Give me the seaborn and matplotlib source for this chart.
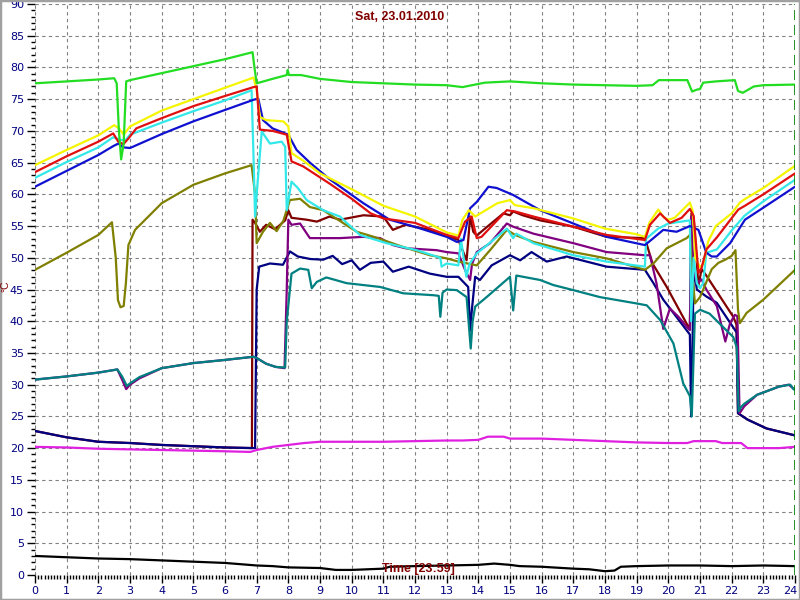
import matplotlib
matplotlib.use("Agg")
import matplotlib.pyplot as plt
import matplotlib.transforms as mtransforms
import seaborn as sns
import pandas as pd
import numpy as np
from matplotlib.patches import Rectangle
from matplotlib.ticker import MultipleLocator

# ---------------- data (hours, °C) ----------------
green_h = [0, 1, 2, 2.5, 2.58, 2.65, 2.72, 2.8, 2.88, 3.0, 4, 5, 6, 6.87, 6.93, 7.0, 7.5, 7.95, 7.98,
           8.02, 8.4, 9, 10, 11, 12, 13, 13.5, 13.8, 14.2, 15, 16, 17, 18, 19, 19.5, 19.7, 20.6, 20.75,
           20.9, 21.0, 21.1, 21.5, 22.1, 22.2, 22.35, 22.7, 23, 24]
green_v = [77.5, 77.8, 78.1, 78.3, 77.5, 70, 65.5, 68, 77.8, 78.0, 79.1, 80.2, 81.3, 82.4, 80, 77.5, 78.2,
           78.8, 79.6, 78.8, 78.8, 78.2, 77.7, 77.5, 77.3, 77.2, 76.9, 77.2, 77.6, 77.8, 77.5, 77.3, 77.2,
           77.1, 77.2, 78.0, 78.0, 76.2, 76.5, 76.6, 77.6, 77.8, 78.0, 76.3, 76.0, 77.0, 77.2, 77.3]

yellow_h = [0, 1, 2, 2.5, 2.65, 2.8, 3.0, 4, 5, 6, 6.9, 7.0, 7.1, 7.3, 7.84, 8.0, 8.1, 8.5, 9.0, 10, 11,
            12, 13, 13.37, 13.5, 13.7, 13.9, 14.0, 14.6, 15.0, 15.15, 15.75, 17, 18, 19, 19.26, 19.4,
            19.68, 19.85, 20.0, 20.2, 20.5, 20.68, 20.77, 20.85, 21.0, 21.1, 21.26, 21.5, 22.0, 22.26,
            22.4, 23, 24]
yellow_v = [64.6, 67.0, 69.3, 70.9, 70.4, 69.4, 70.7, 73.2, 75.0, 76.8, 78.4, 76.5, 72.2, 71.7, 71.5, 70.7,
            66.5, 65.2, 63.3, 60.8, 58.2, 56.5, 54.0, 53.5, 56.0, 57.5, 56.5, 56.8, 58.6, 59.1, 58.3, 57.8,
            56.2, 54.6, 53.7, 53.3, 55.5, 57.6, 56.4, 56.0, 56.3, 57.8, 58.7, 57.4, 50.0, 48.5, 49.0, 52.6,
            55.0, 57.0, 58.7, 59.2, 61.0, 64.5]

red_h = [0, 1, 2, 2.47, 2.63, 2.79, 2.95, 3.2, 4, 5, 6, 6.9, 7.0, 7.1, 7.5, 7.95, 8.1, 8.47, 9.3, 10,
         10.6, 11, 12, 13, 13.37, 13.58, 13.79, 13.95, 14.1, 14.9, 15.16, 15.74, 17, 18.05, 19.26, 19.42,
         19.74, 20.05, 20.42, 20.68, 20.8, 20.95, 21.05, 21.2, 21.53, 22.21, 22.42, 23, 24]
red_v = [63.5, 66.0, 68.3, 69.6, 68.3, 67.9, 68.8, 70.4, 72.0, 73.9, 75.5, 76.9, 77.0, 70.2, 70.0, 69.4,
         65.2, 64.4, 61.7, 59.3, 57.0, 56.2, 55.5, 53.6, 53.1, 55.7, 56.5, 53.1, 53.3, 57.5, 57.3, 56.5,
         54.9, 53.6, 52.8, 55.2, 57.0, 55.5, 56.3, 57.7, 56.6, 47.6, 48.4, 51.3, 53.2, 57.6, 58.2, 60.0, 63.3]

cyan_h = [0, 1, 2, 2.47, 2.68, 2.85, 3.0, 4, 5, 6, 6.84, 6.9, 6.95, 7.0, 7.16, 7.42, 7.79, 7.9, 7.95,
          8.1, 8.3, 8.58, 9.1, 9.63, 10.26, 11.1, 12.05, 12.8, 12.84, 13.0, 13.37, 13.45, 13.62, 13.72,
          13.95, 14.4, 14.9, 15.1, 15.2, 15.74, 17, 18.05, 19.26, 19.3, 19.68, 20.0, 20.68, 20.72, 20.8,
          20.9, 21.0, 21.1, 21.2, 21.53, 22.0, 22.4, 23, 24]
cyan_v = [62.6, 65.1, 67.4, 69.0, 68.6, 68.5, 69.4, 71.3, 73.1, 74.8, 76.4, 66.0, 56.5, 60.0, 69.9, 68.0,
          68.3, 67.5, 57.5, 62.0, 61.0, 59.1, 57.5, 56.5, 53.6, 52.3, 51.2, 50.0, 48.6, 49.1, 48.8, 53.0,
          47.0, 49.0, 50.7, 52.5, 54.6, 53.1, 53.8, 52.3, 50.4, 49.4, 48.6, 53.0, 54.6, 55.4, 55.9, 40.0,
          50.0, 46.0, 45.2, 46.0, 50.8, 51.3, 54.3, 56.6, 58.9, 62.3]

blue_h = [0, 1, 2, 2.47, 2.63, 2.79, 3.0, 4, 5, 6, 6.9, 7.05, 7.2, 7.5, 8.0, 8.26, 8.68, 9.3, 10.37,
          11.2, 12.05, 13.0, 13.32, 13.53, 13.74, 13.95, 14.32, 14.58, 15.1, 15.95, 17, 18.05, 19.26,
          19.53, 19.84, 20.26, 20.68, 20.95, 21.2, 21.37, 21.53, 21.95, 22.42, 23, 24]
blue_v = [61.2, 63.7, 66.2, 67.6, 68.0, 67.4, 67.3, 69.5, 71.5, 73.3, 74.9, 75.1, 71.7, 70.4, 69.4, 67.0,
          65.0, 62.4, 58.6, 56.0, 54.8, 53.3, 52.5, 52.8, 57.8, 58.8, 61.2, 61.0, 59.9, 57.5, 55.4, 53.3,
          52.0, 53.1, 54.4, 54.1, 55.0, 54.4, 50.8, 50.2, 50.2, 52.3, 56.0, 57.9, 61.2]

olive_h = [0, 1, 2, 2.43, 2.55, 2.62, 2.7, 2.8, 2.87, 2.95, 3.16, 4, 5, 6, 6.84, 6.95, 7.0, 7.2, 7.42,
           7.63, 7.84, 8.05, 8.37, 8.68, 9.1, 10.16, 10.7, 11.63, 12.47, 13.0, 13.37, 13.95, 14.37, 14.9,
           15.16, 15.74, 17, 18.05, 19.26, 19.53, 19.95, 20.58, 20.68, 20.75, 20.84, 21.0, 21.37, 21.58,
           21.8, 22.0, 22.12, 22.2, 22.26, 22.47, 23, 24]
olive_v = [48.1, 50.8, 53.6, 55.6, 50.0, 43.3, 42.2, 42.4, 46.0, 52.0, 54.4, 58.6, 61.5, 63.3, 64.6, 60.0,
           52.3, 54.1, 55.5, 54.2, 55.8, 59.1, 59.3, 58.0, 57.5, 54.1, 53.3, 51.7, 50.4, 49.9, 49.4, 48.8,
           51.2, 54.4, 53.6, 52.5, 50.9, 49.9, 48.1, 49.1, 51.5, 53.1, 53.6, 48.0, 42.8, 43.8, 48.2, 49.2,
           49.7, 50.3, 51.2, 41.8, 39.7, 41.3, 43.4, 48.1]

maroon_h = [0, 1, 2, 3, 4, 5, 6, 6.85, 6.87, 6.95, 7.1, 7.3, 7.58, 7.9, 8.0, 8.1, 8.58, 8.9, 9.3, 9.63,
            10.37, 11.0, 11.3, 11.7, 12.47, 13.0, 13.37, 13.63, 13.74, 13.84, 13.95, 14.21, 14.79, 15.0,
            15.1, 15.4, 15.95, 17, 18.05, 19.26, 19.5, 19.95, 20.58, 20.68, 20.73, 20.8, 20.95, 21.05,
            21.2, 22.05, 22.15, 22.2, 22.5, 23.1, 24]
maroon_v = [22.7, 21.7, 21.0, 20.8, 20.5, 20.3, 20.1, 20.0, 56.0, 55.5, 54.1, 55.2, 54.5, 55.9, 57.5, 56.3,
            56.0, 55.7, 56.5, 56.0, 56.7, 56.5, 54.4, 55.2, 54.4, 53.5, 52.8, 49.6, 56.5, 54.1, 53.5, 54.6,
            57.0, 56.7, 57.3, 56.7, 55.9, 54.9, 53.3, 53.1, 49.1, 45.4, 39.6, 38.8, 57.0, 56.3, 45.6, 48.2,
            47.2, 40.7, 39.5, 25.5, 24.5, 23.1, 22.0]

navy_h = [0, 1, 2, 3, 4, 5, 6, 6.95, 7.0, 7.08, 7.42, 7.83, 8.05, 8.3, 8.7, 9.1, 9.4, 9.7, 10.0, 10.26,
          10.6, 11.0, 11.3, 11.8, 12.47, 13.0, 13.37, 13.68, 13.74, 13.8, 13.9, 14.05, 14.42, 15.0, 15.32,
          15.68, 16.16, 16.79, 18.05, 19.26, 19.53, 19.84, 20.68, 20.72, 20.76, 20.8, 20.9, 21.2, 21.53,
          22.16, 22.2, 22.5, 23.1, 24]
navy_v = [22.7, 21.7, 21.0, 20.8, 20.5, 20.3, 20.1, 20.0, 45.0, 48.6, 49.1, 48.9, 51.0, 50.2, 49.8, 49.7,
          50.3, 49.0, 49.6, 48.1, 49.2, 49.4, 47.8, 48.6, 47.5, 47.0, 47.0, 45.4, 38.5, 42.0, 47.0, 46.5,
          48.8, 50.4, 49.6, 50.9, 49.4, 50.2, 48.6, 48.1, 46.0, 43.4, 37.9, 25.0, 35.0, 48.7, 45.0, 43.9,
          42.9, 38.2, 25.5, 24.5, 23.1, 22.0]

purple_h = [0, 1, 2, 2.6, 2.75, 2.88, 3.0, 3.3, 4, 5, 6, 6.9, 7.0, 7.3, 7.6, 7.88, 7.95, 8.0, 8.1, 8.37,
            8.68, 9.63, 10.37, 10.9, 11.3, 11.7, 12.68, 13.0, 13.37, 13.58, 13.74, 13.8, 13.95, 14.37,
            14.9, 15.1, 15.74, 17, 18.05, 19.26, 19.42, 19.63, 19.84, 20.05, 20.32, 20.6, 20.68, 20.72,
            20.8, 20.9, 21.05, 21.2, 21.53, 21.8, 21.95, 22.1, 22.18, 22.25, 22.4, 22.8, 23.5, 23.8, 24]
purple_v = [30.8, 31.3, 31.9, 32.4, 30.8, 29.3, 30.0, 31.0, 32.6, 33.4, 33.9, 34.4, 34.2, 33.3, 32.8, 32.6,
            45.0, 56.0, 55.2, 55.4, 53.1, 53.1, 53.3, 53.1, 52.0, 51.5, 51.2, 50.9, 50.7, 48.1, 46.5, 49.0,
            50.9, 52.3, 55.4, 54.9, 53.8, 52.3, 50.9, 50.4, 50.4, 45.9, 38.8, 42.0, 40.7, 39.0, 38.6, 56.5,
            48.0, 46.0, 46.6, 45.0, 42.4, 36.8, 39.7, 41.0, 40.8, 25.5, 26.6, 28.4, 29.7, 30.0, 29.2]

teal_h = [0, 1, 2, 2.6, 2.75, 2.9, 3.0, 3.3, 4, 5, 6, 6.9, 7.0, 7.3, 7.6, 7.9, 7.95, 8.1, 8.37, 8.63,
          8.74, 8.9, 9.2, 9.84, 10.9, 11.63, 12.58, 12.75, 12.8, 12.87, 13.0, 13.32, 13.63, 13.76, 13.82,
          13.9, 14.26, 15.0, 15.1, 15.2, 15.95, 16.37, 17, 17.84, 19.0, 19.32, 19.74, 20.16, 20.47, 20.68,
          20.74, 20.84, 21.0, 21.3, 22.05, 22.16, 22.22, 22.3, 22.4, 22.8, 23.5, 23.85, 23.95, 24]
teal_v = [30.8, 31.3, 31.9, 32.4, 31.3, 29.8, 30.2, 31.2, 32.6, 33.4, 33.9, 34.4, 34.2, 33.3, 32.8, 32.7,
          40.0, 47.5, 48.3, 48.1, 45.2, 46.2, 46.9, 46.0, 45.4, 44.4, 44.1, 44.0, 40.7, 44.5, 45.0, 44.9,
          43.8, 35.7, 40.0, 42.3, 43.8, 47.0, 41.7, 47.2, 46.5, 45.7, 44.9, 43.8, 42.8, 42.5, 40.2, 36.5,
          30.2, 28.2, 25.0, 41.2, 41.8, 41.2, 37.5, 35.9, 25.8, 26.5, 27.0, 28.4, 29.7, 30.0, 29.3, 29.2]

magenta_h = [0, 1, 2, 3, 4, 5, 6, 6.8, 7.0, 7.5, 8.0, 8.5, 9, 10, 11, 12, 13, 13.5, 14, 14.3, 14.8, 15,
             16, 17, 18, 19, 20, 20.6, 20.8, 21.5, 21.7, 22.3, 22.5, 23.5, 24]
magenta_v = [20.2, 20.1, 19.9, 19.8, 19.7, 19.6, 19.5, 19.4, 19.7, 20.2, 20.5, 20.8, 21.0, 21.0, 21.0,
             21.1, 21.2, 21.2, 21.3, 21.8, 21.8, 21.5, 21.5, 21.3, 21.1, 20.9, 20.8, 20.8, 21.1, 21.1,
             20.8, 20.8, 20.0, 20.0, 20.2]

black_h = [0, 0.5, 1, 2, 3, 4, 5, 6, 6.5, 7, 7.5, 8, 9, 9.5, 10, 10.5, 11, 11.2, 12, 13, 14, 14.5, 15,
           15.3, 16, 17, 17.5, 18, 18.3, 18.5, 19, 20, 21, 22, 23, 24]
black_v = [3.0, 2.9, 2.8, 2.6, 2.5, 2.3, 2.1, 1.9, 1.7, 1.5, 1.4, 1.2, 1.1, 0.8, 0.8, 0.9, 1.0, 1.3, 1.4,
           1.5, 1.6, 1.8, 1.6, 1.4, 1.3, 1.0, 0.9, 0.6, 0.7, 1.3, 1.4, 1.5, 1.5, 1.4, 1.5, 1.4]

x_ticks = list(range(0, 25))
y_ticks = list(range(0, 95, 5))

# drawing order (bottom to top) and colours
series = [
    ("maroon", maroon_h, maroon_v, "#800000"),
    ("navy", navy_h, navy_v, "#000080"),
    ("purple", purple_h, purple_v, "#800080"),
    ("teal", teal_h, teal_v, "#008080"),
    ("olive", olive_h, olive_v, "#808000"),
    ("cyan", cyan_h, cyan_v, "#33E8E8"),
    ("blue", blue_h, blue_v, "#1010D0"),
    ("yellow", yellow_h, yellow_v, "#F5F500"),
    ("red", red_h, red_v, "#E01010"),
    ("green", green_h, green_v, "#22DD22"),
    ("magenta", magenta_h, magenta_v, "#E020E0"),
    ("black", black_h, black_v, "#000000"),
]

sns.set_theme(style="white")
plt.rcParams["font.family"] = ["DejaVu Sans"]

fig = plt.figure(figsize=(8, 6), dpi=100)
fig.patch.set_facecolor("white")
ax = fig.add_axes([35 / 800, 25 / 600, 760 / 800, 571 / 600])
ax.set_facecolor("white")

for name, h, v, col in series:
    df = pd.DataFrame({"hour": h, "value": v})
    sns.lineplot(data=df, x="hour", y="value", ax=ax, color=col, linewidth=1.6,
                 sort=False, estimator=None)

ax.axvline(24, color="#008000", lw=1.2, ls=(0, (6, 3)), zorder=5)

ax.set_xlim(0, 24)
ax.set_ylim(0, 90)
ax.set_xticks(x_ticks)
ax.set_yticks(y_ticks)
ax.xaxis.set_minor_locator(MultipleLocator(0.1))
ax.yaxis.set_minor_locator(MultipleLocator(1))
ax.set_xlabel("")
ax.set_ylabel("")
ax.grid(True, which="major", color="#808080", lw=0.8, ls=(0, (3, 3)))
ax.set_axisbelow(True)
for s in ax.spines.values():
    s.set_visible(False)
ax.tick_params(axis="both", which="major", direction="out", length=6, width=1, color="black",
               labelsize=8, labelcolor="#000080", pad=2,
               bottom=True, left=True)
ax.tick_params(axis="both", which="minor", direction="out", length=3, width=1, color="black",
               bottom=True, left=True)

# keep the last hour label inside the frame
last = ax.get_xticklabels()[-1]
last.set_horizontalalignment("right")
last.set_transform(last.get_transform() + mtransforms.ScaledTranslation(2 / 72, 0, fig.dpi_scale_trans))

fig.text(0.5, 1 - 17 / 600, "Sat, 23.01.2010", color="#800000", fontweight="bold",
         fontsize=9, family=["Liberation Sans", "DejaVu Sans"], ha="center", va="center")
fig.text(418 / 800, 1 - 569 / 600, "Time [23:59]", color="#800000", fontweight="bold",
         fontsize=9, family=["Liberation Sans", "DejaVu Sans"], ha="center", va="center")
fig.text(5 / 800, 1 - 286 / 600, "°C", color="#800000", fontsize=7.5, rotation=90,
         family=["Liberation Sans", "DejaVu Sans"], ha="center", va="center")

fig.add_artist(Rectangle((0, 0), 1, 1, transform=fig.transFigure, fill=False,
                         edgecolor="#A0A0A0", lw=2.5))

fig.savefig("out.png", dpi=100)
